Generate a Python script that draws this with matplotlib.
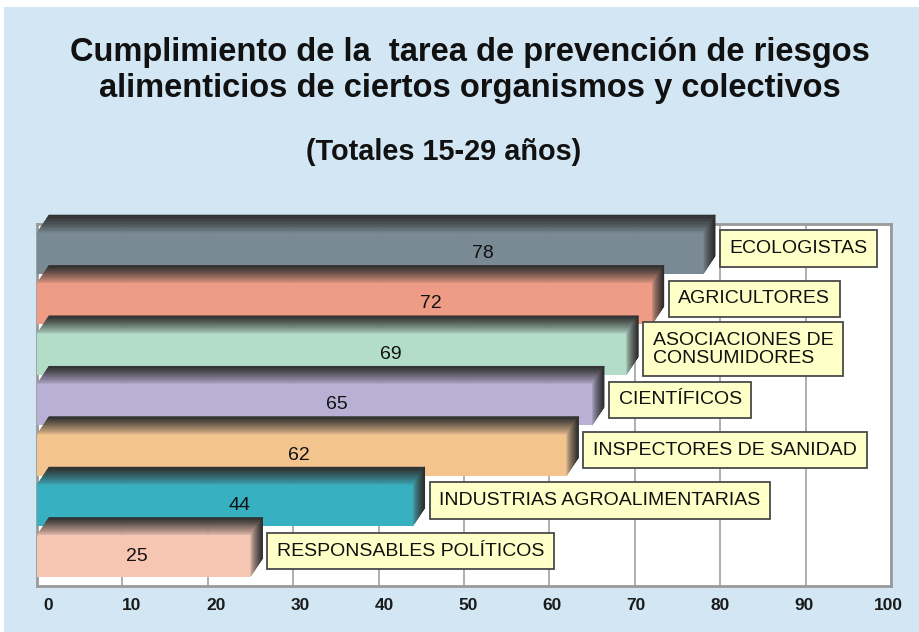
import matplotlib
matplotlib.use("Agg")
import matplotlib.pyplot as plt
import numpy as np
from matplotlib.collections import PolyCollection
from matplotlib.patches import Rectangle
from matplotlib.colors import to_rgb

# ---------------- data ----------------
categories = ["ECOLOGISTAS", "AGRICULTORES", "ASOCIACIONES DE\nCONSUMIDORES",
              "CIENTÍFICOS", "INSPECTORES DE SANIDAD",
              "INDUSTRIAS AGROALIMENTARIAS", "RESPONSABLES POLÍTICOS"]
values = [78, 72, 69, 65, 62, 44, 25]
bar_colors = ["#798a94", "#ee9c85", "#b3dcc9", "#b9b0d6", "#f4c48f", "#37b1c2", "#f6c6b3"]
xticks = [0, 10, 20, 30, 40, 50, 60, 70, 80, 90, 100]
title_lines = ["Cumplimiento de la  tarea de prevención de riesgos",
               "alimenticios de ciertos organismos y colectivos"]
subtitle = "(Totales 15-29 años)"

# ---------------- layout / style ----------------
W, H = 920, 632
BG = "#d2e6f4"
FONT = "Liberation Sans"
# value label position as fraction of the bar length
label_frac = [0.67, 0.64, 0.60, 0.54, 0.495, 0.54, 0.47]

fig = plt.figure(figsize=(W / 100, H / 100), dpi=100)
fig.patch.set_facecolor("white")
fig.patches.append(Rectangle((4 / W, 0), 1 - 4 / W, 1 - 7 / H, transform=fig.transFigure,
                             facecolor=BG, edgecolor="none", zorder=-10))

# plot area in pixels
px_l, px_r, px_t, px_b = 37, 891, 224, 586
ax = fig.add_axes([px_l / W, 1 - px_b / H, (px_r - px_l) / W, (px_b - px_t) / H])
ax.set_facecolor("white")
n = len(values)
ylo, yhi = -0.595, 6.585
ax.set_xlim(0, 100)
ax.set_ylim(ylo, yhi)
for s in ax.spines.values():
    s.set_color("#9a9a9a")
    s.set_linewidth(2.0)
ax.set_xticks(xticks)
ax.set_yticks([])
ax.tick_params(axis="x", length=0, labelbottom=False)
ax.grid(axis="x", color="#9a9a9a", linewidth=1.1)
ax.set_axisbelow(True)

xpx = (px_r - px_l) / 100.0
ypx = (px_b - px_t) / (yhi - ylo)
dx = 12 / xpx
dy = 18 / ypx
hh = 20.5 / ypx
dark = np.array(to_rgb("#2c2c2c"))
N = 24

for i, (v, c) in enumerate(zip(values, bar_colors)):
    y = n - 1 - i
    z = 3 + i * 3
    col = np.array(to_rgb(c))
    yb, yt = y - hh, y + hh
    # top face (gradient: bar colour at front -> dark at back)
    polys, cols = [], []
    for k in range(N):
        t0, t1 = k / N, (k + 1) / N
        polys.append([(0 + t0 * dx, yt + t0 * dy), (v + t0 * dx, yt + t0 * dy),
                      (v + t1 * dx, yt + t1 * dy), (0 + t1 * dx, yt + t1 * dy)])
        tm = ((k + 0.5) / N) ** 0.8
        cols.append(tuple(col * (1 - tm) + dark * tm))
    pc = PolyCollection(polys, facecolors=cols, edgecolors=cols, linewidths=0.4,
                        zorder=z, clip_on=False)
    ax.add_collection(pc)
    # side face (gradient: bar colour -> dark)
    polys, cols = [], []
    light = col * 0.85 + np.array([0.75, 0.75, 0.75]) * 0.15
    for k in range(N):
        s0, s1 = k / N, (k + 1) / N
        polys.append([(v + s0 * dx, yb + s0 * dy), (v + s0 * dx, yt + s0 * dy),
                      (v + s1 * dx, yt + s1 * dy), (v + s1 * dx, yb + s1 * dy)])
        sm = ((k + 0.5) / N) ** 0.7
        cols.append(tuple(light * (1 - sm) + dark * sm))
    pc = PolyCollection(polys, facecolors=cols, edgecolors=cols, linewidths=0.4,
                        zorder=z + 1, clip_on=False)
    ax.add_collection(pc)
    # front face
    ax.barh(y, v, height=2 * hh, left=0, color=c, edgecolor="none", zorder=z + 2)
    # value label
    ax.text(v * label_frac[i], y, str(v), ha="center", va="center",
            fontsize=14, family=FONT, color="#111111", zorder=z + 2)
    # category label box
    ax.text(v + dx + 14.5 / xpx, y + 5 / ypx, categories[i], ha="left", va="center",
            fontsize=14, family=FONT, color="#111111", linespacing=1.05,
            zorder=40,
            bbox=dict(boxstyle="square,pad=0.5", facecolor="#ffffc8",
                      edgecolor="#4a4a4a", linewidth=1.3))

# tick labels axis (slightly offset scale as in the original)
ax2 = fig.add_axes([48 / W, 1 - px_b / H, (888 - 48) / W, 0.001])
ax2.set_xlim(0, 100)
ax2.set_xticks(xticks)
ax2.set_xticklabels([str(t) for t in xticks], fontsize=12.5, fontweight="bold",
                    family=FONT, color="#1a1a1a")
ax2.tick_params(axis="x", length=0, pad=9)
ax2.set_yticks([])
for s in ax2.spines.values():
    s.set_visible(False)
ax2.patch.set_visible(False)

# titles
fig.text(470 / W, 1 - 53 / H, title_lines[0], ha="center", va="center",
         fontsize=23.5, fontweight="bold", family=FONT, color="#111111")
fig.text(470 / W, 1 - 89 / H, title_lines[1], ha="center", va="center",
         fontsize=23.5, fontweight="bold", family=FONT, color="#111111")
fig.text(444 / W, 1 - 152 / H, subtitle, ha="center", va="center",
         fontsize=20.8, fontweight="bold", family=FONT, color="#111111")

fig.savefig("out.png", dpi=100, facecolor=fig.get_facecolor())
